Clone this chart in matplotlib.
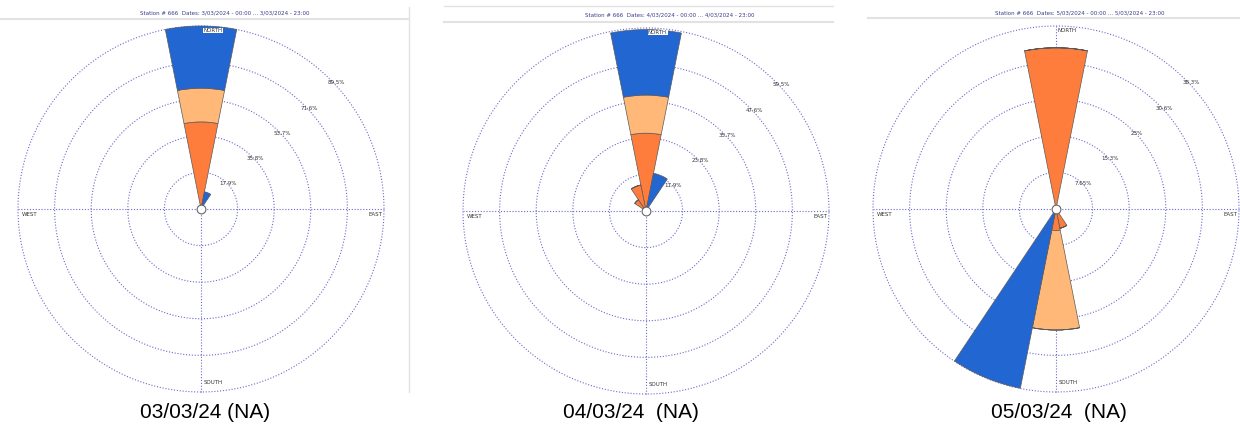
import numpy as np
import matplotlib.pyplot as plt

# 16 compass sectors, clockwise from north
directions = ['N', 'NNE', 'NE', 'ENE', 'E', 'ESE', 'SE', 'SSE',
              'S', 'SSW', 'SW', 'WSW', 'W', 'WNW', 'NW', 'NNW']

# frequency (%) per sector for each speed class: low / mid / high
day1_low = [42.6, 1.5, 0, 0, 0, 0, 0, 0, 0, 0, 0, 0, 0, 0, 0, 0]
day1_mid = [16.5, 0.5, 0, 0, 0, 0, 0, 0, 0, 0, 0, 0, 0, 0, 0, 0]
day1_high = [30.4, 6.6, 0, 0, 0, 0, 0, 0, 0, 0, 0, 0, 0, 0, 0, 0]

day2_low = [25.3, 1.0, 0, 0, 0, 0, 0, 0, 0, 0, 0, 0, 0, 0, 4.4, 8.6]
day2_mid = [12.4, 0, 0, 0, 0, 0, 0, 0, 0, 0, 0, 0, 0, 0, 0, 0]
day2_high = [21.3, 11.5, 0, 0, 0, 0, 0, 0, 0, 0, 0, 0, 0, 0, 0, 0]

day3_low = [33.7, 0, 0, 0, 0, 0, 0, 4.1, 4.5, 0, 0, 0, 0, 0, 0, 0]
day3_mid = [0, 0, 0, 0, 0, 0, 0, 0, 20.8, 0, 0, 0, 0, 0, 0, 0]
day3_high = [0, 0, 0, 0, 0, 0, 0, 0, 0, 38.2, 0, 0, 0, 0, 0, 0]

# ring values and their labels
day1_rings = [17.9, 35.8, 53.7, 71.6, 89.5]
day1_ring_labels = ['17.9%', '35.8%', '53.7%', '71.6%', '89.5%']
day2_rings = [11.9, 23.8, 35.7, 47.6, 59.5]
day2_ring_labels = ['11.9%', '23.8%', '35.7%', '47.6%', '59.5%']
day3_rings = [7.65, 15.3, 22.95, 30.6, 38.25]
day3_ring_labels = ['7.65%', '15.3%', '23%', '30.6%', '38.3%']

titles = ['Station # 666  Dates: 3/03/2024 - 00:00 ... 3/03/2024 - 23:00',
          'Station # 666  Dates: 4/03/2024 - 00:00 ... 4/03/2024 - 23:00',
          'Station # 666  Dates: 5/03/2024 - 00:00 ... 5/03/2024 - 23:00']
captions = ['03/03/24 (NA)', '04/03/24  (NA)', '05/03/24  (NA)']

C_LOW = '#FF7D3C'
C_MID = '#FFB878'
C_HIGH = '#2266D2'
GRID = '#6a6acc'

W, H = 1240, 432
fig = plt.figure(figsize=(W / 100, H / 100), dpi=100)
fig.patch.set_facecolor('white')


def draw_rose(cx, cy, rad, low, mid, high, rings, ring_labels):
    ax = fig.add_axes([(cx - rad) / W, (H - cy - rad) / H, 2 * rad / W, 2 * rad / H],
                      projection='polar')
    ax.set_theta_zero_location('N')
    ax.set_theta_direction(-1)
    rmax = rings[-1]
    ax.set_ylim(0, rmax)
    ax.grid(False)
    ax.set_xticks([])
    ax.set_yticks([])
    ax.spines['polar'].set_visible(False)
    ax.patch.set_alpha(0)

    # dotted rings and cross lines
    t = np.linspace(0, 2 * np.pi, 400)
    for r in rings:
        ax.plot(t, np.full_like(t, r), color=GRID, lw=0.8, ls=(0, (1, 1.6)),
                zorder=1, clip_on=False)
    for a in [0, 90, 180, 270]:
        ax.plot([np.radians(a)] * 2, [0, rmax], color=GRID, lw=0.8, ls=(0, (1, 1.6)),
                zorder=1, clip_on=False)

    theta = np.radians(np.arange(16) * 22.5)
    width = np.radians(22.5)
    low = np.array(low)
    mid = np.array(mid)
    high = np.array(high)
    kw = dict(width=width, edgecolor='#5a5a5a', linewidth=0.5, zorder=3, clip_on=False)
    ax.bar(theta, low, bottom=0, color=C_LOW, **kw)
    ax.bar(theta, mid, bottom=low, color=C_MID, **kw)
    ax.bar(theta, high, bottom=low + mid, color=C_HIGH, **kw)

    # ring labels along the north-east diagonal
    for r, lab in zip(rings, ring_labels):
        ax.text(np.radians(47), r * 1.01, lab, fontsize=4, color='#333333',
                ha='center', va='center', zorder=4)

    # compass labels
    ax.text(0.5 + 2 / (2 * rad), 1 - 2 / (2 * rad), 'NORTH', transform=ax.transAxes,
            fontsize=4, color='#333333', ha='left', va='top', zorder=5,
            bbox=dict(facecolor='white', edgecolor='none', pad=0.3))
    ax.text(0.5 + 3 / (2 * rad), 10 / (2 * rad), 'SOUTH', transform=ax.transAxes,
            fontsize=4, color='#333333', ha='left', va='center', zorder=5)
    ax.text(1 - 2 / (2 * rad), 0.5 - 5 / (2 * rad), 'EAST', transform=ax.transAxes,
            fontsize=4, color='#333333', ha='right', va='center', zorder=5)
    ax.text(4 / (2 * rad), 0.5 - 5 / (2 * rad), 'WEST', transform=ax.transAxes,
            fontsize=4, color='#333333', ha='left', va='center', zorder=5)

    ax.scatter([0], [0], s=40, facecolor='white', edgecolor='#666666',
               linewidth=0.8, zorder=6)
    return ax


draw_rose(201, 209, 183, day1_low, day1_mid, day1_high, day1_rings, day1_ring_labels)
draw_rose(646, 211, 183, day2_low, day2_mid, day2_high, day2_rings, day2_ring_labels)
draw_rose(1056, 209, 183, day3_low, day3_mid, day3_high, day3_rings, day3_ring_labels)

# header strips and frame lines of the three screenshots
ov = fig.add_axes([0, 0, 1, 1], zorder=-1)
ov.set_xlim(0, W)
ov.set_ylim(H, 0)
ov.axis('off')
line_c = '#e2e2e2'
ov.plot([0, 409], [19, 19], color=line_c, lw=1.5)
ov.plot([409, 409], [7, 392], color=line_c, lw=1.0)
ov.plot([444, 833], [6, 6], color=line_c, lw=1.0)
ov.plot([444, 833], [22, 22], color=line_c, lw=1.5)
ov.plot([868, 1240], [18, 18], color=line_c, lw=1.5)

for x, y, t in zip([225, 670, 1080], [13, 15, 13], titles):
    fig.text(x / W, 1 - y / H, t, fontsize=4, color='#3a3a8c', ha='center', va='center')

for x, t in zip([205, 631, 1059], captions):
    fig.text(x / W, 1 - 412 / H, t, fontsize=15, color='black', ha='center', va='center',
             family=['Liberation Sans', 'DejaVu Sans'])

fig.savefig('out.png', dpi=100)
